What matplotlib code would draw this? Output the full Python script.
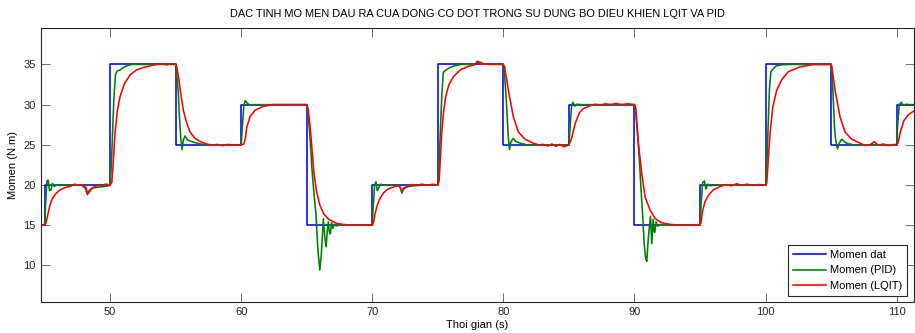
import numpy as np
import matplotlib
matplotlib.use('Agg')
import matplotlib.pyplot as plt

plt.rcParams['font.family'] = ['Liberation Sans', 'DejaVu Sans']

# setpoint (step changes)
t_ref = [44.7, 45, 50, 55, 60, 65, 70, 75, 80, 85, 90, 95, 100, 105, 110, 111.4]
y_ref = [15, 20, 35, 25, 30, 15, 20, 35, 25, 30, 15, 20, 35, 25, 30, 30]

# PID response
t_pid = [44.7, 45.0, 45.08, 45.18, 45.28, 45.38, 45.5, 45.6, 45.75, 45.9, 46.2, 46.6, 47.2, 47.8,
         48.1, 48.27, 48.4, 48.6, 49.0, 49.5, 49.9,
         50.0, 50.1, 50.2, 50.3, 50.42, 50.55, 50.75, 51.0, 51.3, 51.7, 52.5, 53.5, 54.5,
         55.0, 55.1, 55.21, 55.29, 55.39, 55.49, 55.59, 55.72, 55.9, 56.23, 56.87, 57.5, 59.0,
         60.0, 60.1, 60.2, 60.3, 60.45, 60.6, 61.5, 63.0,
         65.0, 65.1, 65.25, 65.4, 65.55, 65.7, 65.85, 66.0, 66.12, 66.27, 66.38, 66.48, 66.58,
         66.65, 66.72, 66.8, 66.9, 67.0, 67.1, 67.25, 67.5, 68.5,
         70.0, 70.08, 70.18, 70.28, 70.38, 70.5, 70.65, 70.9, 71.5, 72.0, 72.15, 72.25, 72.4,
         72.7, 73.2, 74.0,
         75.0, 75.1, 75.2, 75.3, 75.42, 75.6, 75.9, 76.3, 76.8, 77.5, 77.9, 78.0, 78.2, 78.5, 79.0,
         80.0, 80.1, 80.2, 80.3, 80.38, 80.47, 80.58, 80.76, 80.95, 81.3, 81.8, 83.0, 84.5,
         85.0, 85.1, 85.2, 85.3, 85.45, 85.6, 86.0, 87.0, 88.5,
         90.0, 90.1, 90.25, 90.38, 90.5, 90.63, 90.75, 90.86, 90.94, 91.02, 91.09, 91.22, 91.32,
         91.42, 91.5, 91.55, 91.65, 91.75, 91.83, 92.0, 92.2, 93.0,
         95.0, 95.08, 95.2, 95.33, 95.45, 95.6, 95.8, 96.2, 97.0, 98.5,
         100.0, 100.1, 100.2, 100.3, 100.4, 100.55, 100.8, 101.2, 101.8, 103.0, 104.0,
         105.0, 105.08, 105.17, 105.25, 105.33, 105.48, 105.62, 105.81, 106.0, 106.19, 106.7, 108.0,
         110.0, 110.08, 110.2, 110.35, 110.5, 110.7, 111.0, 111.4]
y_pid = [15.0, 15.0, 17.5, 20.5, 20.6, 19.3, 19.4, 20.2, 19.8, 20.05, 19.95, 20.0, 20.0, 20.0,
         19.6, 18.8, 19.3, 19.6, 19.7, 19.8, 19.9,
         20.0, 22.5, 27.0, 31.0, 33.8, 34.2, 34.3, 34.6, 34.85, 35.0, 35.0, 35.0, 35.0,
         35.0, 33.5, 31.4, 28.5, 25.9, 24.4, 25.6, 26.1, 25.6, 25.4, 25.1, 25.0, 25.0,
         25.0, 27.5, 29.8, 30.5, 30.2, 30.0, 30.0, 30.0,
         30.0, 29.0, 26.0, 22.0, 19.0, 16.5, 12.0, 9.4, 11.5, 15.8, 13.5, 12.3, 14.5,
         15.4, 14.2, 13.9, 15.3, 14.6, 15.1, 14.9, 15.0, 15.0,
         15.0, 17.5, 20.0, 20.4, 19.3, 19.7, 20.1, 19.95, 20.0, 20.0, 19.6, 19.0, 19.5,
         19.8, 19.9, 20.0,
         20.0, 22.5, 27.0, 31.0, 34.0, 34.3, 34.6, 34.85, 35.0, 35.0, 35.1, 35.4, 35.3, 35.1, 35.0,
         35.0, 33.5, 31.2, 28.3, 25.9, 24.4, 25.4, 25.8, 25.4, 25.2, 25.0, 25.0, 25.0,
         25.0, 27.5, 29.8, 30.3, 29.8, 30.05, 30.0, 30.0, 30.0,
         30.0, 29.0, 26.0, 23.0, 19.5, 16.1, 12.5, 10.8, 10.5, 12.5, 14.0, 16.1, 12.7,
         15.7, 14.2, 14.1, 15.4, 14.9, 14.9, 15.1, 15.0, 15.0,
         15.0, 17.5, 20.3, 20.5, 19.5, 20.1, 19.9, 20.0, 20.0, 20.0,
         20.0, 22.5, 27.5, 32.0, 34.1, 34.4, 34.8, 34.95, 35.0, 35.0, 35.0,
         35.0, 33.5, 30.5, 27.5, 25.8, 24.5, 25.2, 25.7, 25.4, 25.2, 25.0, 25.0,
         25.0, 27.5, 30.0, 30.3, 29.9, 30.05, 30.0, 30.0]

# LQIT response
t_lqit = [44.7, 45.0, 45.1, 45.25, 45.4, 45.6, 45.85, 46.2, 46.6, 47.0, 47.3, 47.6, 48.0,
          48.15, 48.3, 48.45, 48.7, 49.0, 49.4, 49.7,
          50.0, 50.13, 50.25, 50.38, 50.56, 50.76, 51.09, 51.53, 52.0, 52.5, 53.0, 53.5, 54.0,
          54.3, 54.6,
          55.0, 55.1, 55.21, 55.39, 55.59, 55.85, 56.1, 56.48, 56.87, 57.38, 57.8, 58.14, 58.6,
          59.0, 59.5,
          60.0, 60.2, 60.32, 60.43, 60.68, 61.06, 61.7, 62.46, 63.5,
          65.0, 65.1, 65.25, 65.4, 65.55, 65.75, 66.0, 66.3, 66.7, 67.3, 68.0, 69.0,
          70.0, 70.1, 70.2, 70.35, 70.55, 70.85, 71.2, 71.7, 72.0, 72.1, 72.25, 72.4, 72.7,
          73.0, 73.4, 73.8, 74.2, 74.6,
          75.0, 75.1, 75.2, 75.3, 75.43, 75.6, 75.85, 76.2, 76.7, 77.3, 77.8, 78.0, 78.3, 78.8,
          79.5,
          80.0, 80.1, 80.38, 80.76, 81.14, 81.65, 82.29, 82.7, 83.05, 83.4, 83.7, 84.0, 84.3, 84.6,
          85.0, 85.1, 85.22, 85.47, 85.8, 86.1, 86.61, 87.0, 87.4, 87.8, 88.2, 88.6, 89.0, 89.5,
          90.0, 90.1, 90.3, 90.56, 90.81, 91.19, 91.57, 92.08, 92.72, 93.5,
          95.0, 95.06, 95.21, 95.38, 95.64, 96.02, 96.53, 97.0, 97.4, 97.8, 98.2, 98.6, 99.0,
          99.5,
          100.0, 100.09, 100.21, 100.34, 100.55, 100.85, 101.23, 101.74, 102.63, 103.65, 104.5,
          105.0, 105.05, 105.3, 105.68, 106.06, 106.57, 107.21, 107.6, 107.97, 108.3, 108.6,
          109.0, 109.4, 109.8,
          110.0, 110.1, 110.3, 110.55, 110.93, 111.4]
y_lqit = [15.0, 15.0, 15.2, 16.3, 17.4, 18.3, 18.9, 19.4, 19.7, 19.85, 20.1, 19.95, 20.0,
          19.7, 18.9, 19.2, 19.7, 19.9, 20.0, 20.1,
          20.0, 20.3, 23.0, 26.5, 29.3, 31.0, 32.6, 33.7, 34.3, 34.6, 34.8, 35.0, 35.1,
          34.95, 35.1,
          35.0, 34.6, 33.5, 31.4, 29.3, 27.7, 26.6, 25.8, 25.4, 25.1, 24.95, 25.05, 24.9,
          25.05, 24.95,
          25.0, 25.1, 25.8, 27.2, 28.5, 29.3, 29.8, 30.0, 30.0,
          30.0, 29.5, 27.5, 24.5, 21.5, 19.2, 17.5, 16.4, 15.7, 15.2, 15.05, 15.0,
          15.0, 15.3, 16.3, 17.3, 18.2, 19.0, 19.5, 19.8, 19.9, 19.8, 19.35, 19.6, 19.9,
          20.05, 19.95, 20.1, 19.95, 20.1,
          20.0, 20.5, 23.5, 26.5, 29.0, 31.0, 32.5, 33.5, 34.3, 34.75, 34.95, 35.3, 35.1, 35.0,
          35.05,
          35.0, 34.7, 31.8, 28.5, 26.6, 25.7, 25.2, 25.0, 25.05, 24.85, 25.1, 24.8, 25.05, 24.75,
          25.0, 25.3, 25.9, 27.6, 29.0, 29.5, 29.85, 30.05, 29.95, 30.1, 30.0, 30.15, 30.0, 30.1,
          30.0, 29.6, 25.2, 21.4, 18.5, 16.9, 15.8, 15.3, 15.1, 15.0,
          15.0, 15.2, 16.9, 17.9, 18.7, 19.4, 19.8, 20.05, 19.9, 20.15, 19.95, 20.1, 19.95,
          20.05,
          20.0, 20.2, 23.1, 26.4, 29.7, 31.8, 33.1, 34.1, 34.7, 35.0, 35.0,
          35.0, 34.8, 31.8, 28.5, 26.6, 25.7, 25.2, 24.9, 25.0, 25.4, 24.95,
          25.1, 24.9, 25.05,
          25.0, 25.2, 26.7, 28.0, 28.8, 29.3]

fig = plt.figure(figsize=(9.15, 3.33), dpi=100)
ax = fig.add_axes([0.0445, 0.0922, 0.9545, 0.8228])

ax.plot(t_ref, y_ref, color='#0000ff', lw=1.15, drawstyle='steps-post', label='Momen dat')
ax.plot(t_pid, y_pid, color='#008000', lw=1.15, label='Momen (PID)')
ax.plot(t_lqit, y_lqit, color='#ff0000', lw=1.15, label='Momen (LQIT)')

ax.set_xlim(44.71, 111.33)
ax.set_ylim(5.4, 39.5)
ax.set_xticks([50, 60, 70, 80, 90, 100, 110])
ax.set_yticks([10, 15, 20, 25, 30, 35])
ax.tick_params(direction='in', length=6.5, width=0.6, color='#555555',
               top=True, right=True, labelsize=8, labelcolor='#262626', pad=3.5)
for s in ax.spines.values():
    s.set_linewidth(0.8)
    s.set_color('#262626')

ax.set_title('DAC TINH MO MEN DAU RA CUA DONG CO DOT TRONG SU DUNG BO DIEU KHIEN LQIT VA PID',
             fontsize=7.9, family=['Liberation Sans Narrow', 'Liberation Sans'], pad=8)
ax.set_xlabel('Thoi gian (s)', fontsize=8, labelpad=2)
ax.set_ylabel('Momen (N.m)', fontsize=8, labelpad=4)

leg = ax.legend(loc='lower right', bbox_to_anchor=(0.992, 0.023), borderaxespad=0,
                fontsize=8, fancybox=False, handlelength=3, handletextpad=0.35,
                labelspacing=0.5, borderpad=0.45, framealpha=1)
leg.get_frame().set_edgecolor('#262626')
leg.get_frame().set_linewidth(0.8)

fig.savefig('out.png', dpi=100)
